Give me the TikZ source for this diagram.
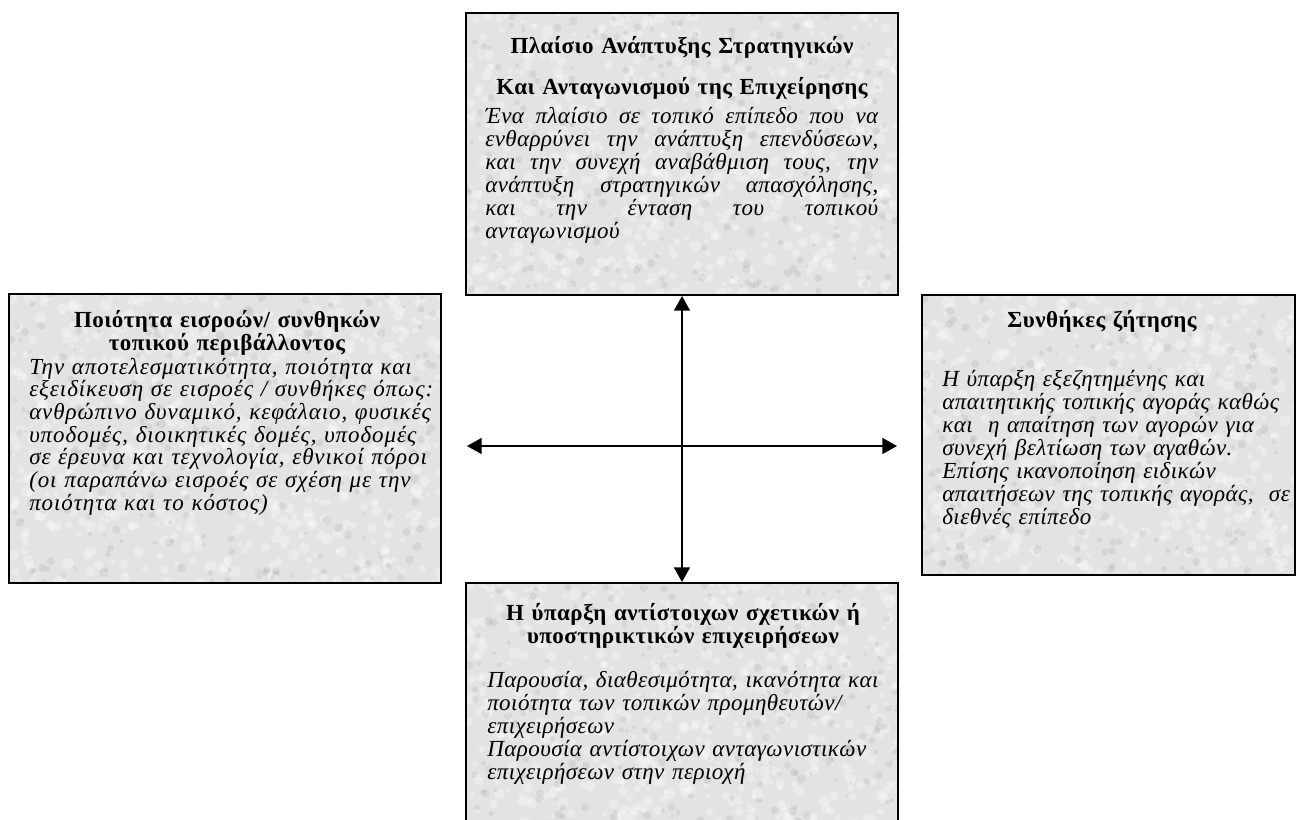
\documentclass[tikz,border=0pt]{standalone}
\usepackage{fontspec}
\setmainfont{Liberation Serif}[LetterSpace=2]
\newfontfamily\widerserif{Liberation Serif}[LetterSpace=4]
\usepackage{tikz}
\usetikzlibrary{arrows.meta}

\begin{document}
\pgfmathsetseed{7}
\begin{tikzpicture}[x=0.75pt,y=-0.75pt,
    box/.style={draw, line width=1.5pt, fill=black!11, inner sep=0pt,
      path picture={
        \foreach \s in {1,...,700}
          \fill[white, opacity=.3] (path picture bounding box.center)
            ++({(rnd-0.5)*440},{(rnd-0.5)*300}) circle[radius={2+4*rnd}];
        \foreach \s in {1,...,300}
          \fill[black!35, opacity=.22] (path picture bounding box.center)
            ++({(rnd-0.5)*440},{(rnd-0.5)*300}) circle[radius={1.5+3*rnd}];
      }},
    head/.style={font=\fontsize{17.25}{17.25}\selectfont\bfseries, align=center, inner sep=0pt, anchor=base},
    body/.style={font=\fontsize{17.25}{17.25}\selectfont\itshape, align=left, inner sep=0pt, anchor=base west},
    link/.style={line width=1.1pt, {Triangle[length=11pt,width=12pt]}-{Triangle[length=11pt,width=12pt]}}]
\useasboundingbox (0,0) rectangle (1297,819);
\fill[white] (0,0) rectangle (1297,819);

% the four boxes
\node[box, minimum width=324pt, minimum height=211.5pt] (strat) at (682,154) {};
\node[box, minimum width=324pt, minimum height=216.75pt] (inputs) at (225,438.5) {};
\node[box, minimum width=279.75pt, minimum height=210pt] (demand) at (1108.5,435) {};
\node[box, minimum width=324pt, minimum height=189pt] (supp) at (682,709) {};

% texts
\node[head, text width=315pt] (strathead) at (682,53)
  {Πλαίσιο Ανάπτυξης Στρατηγικών\\[13.5pt]
   Και Ανταγωνισμού της Επιχείρησης};
\node[body, align=justify, text width=294.75pt] (stratbody) at (485,123)
  {Ένα πλαίσιο σε τοπικό επίπεδο που να\linebreak
   ενθαρρύνει την ανάπτυξη επενδύσεων,\linebreak
   και την συνεχή αναβάθμιση τους, την\linebreak
   ανάπτυξη στρατηγικών απασχόλησης,\linebreak
   και την ένταση του τοπικού\linebreak
   ανταγωνισμού};

\node[head, text width=315pt] (inputshead) at (227,327)
  {Ποιότητα εισροών/ συνθηκών\\
   τοπικού περιβάλλοντος};
\node[body, font=\fontsize{17.25}{17}\widerserif\itshape, text width=315pt] (inputsbody) at (29,374)
  {Την αποτελεσματικότητα, ποιότητα και\\
   εξειδίκευση σε εισροές / συνθήκες όπως:\\
   ανθρώπινο δυναμικό, κεφάλαιο, φυσικές\\
   υποδομές, διοικητικές δομές, υποδομές\\
   σε έρευνα και τεχνολογία, εθνικοί πόροι\\
   (οι παραπάνω εισροές σε σχέση με την\\
   ποιότητα και το κόστος)};

\node[head, text width=270pt] (demandhead) at (1102,327) {Συνθήκες ζήτησης};
\node[body, text width=275pt] (demandbody) at (942,386)
  {Η ύπαρξη εξεζητημένης και\\
   απαιτητικής τοπικής αγοράς καθώς\\
   και~ η απαίτηση των αγορών για\\
   συνεχή βελτίωση των αγαθών.\\
   Επίσης ικανοποίηση ειδικών\\
   απαιτήσεων της τοπικής αγοράς,~ σε\\
   διεθνές επίπεδο};

\node[head, text width=315pt] (supphead) at (683,620)
  {Η ύπαρξη αντίστοιχων σχετικών ή\\
   υποστηρικτικών επιχειρήσεων};
\node[body, text width=310pt] (suppbody) at (487,687)
  {Παρουσία, διαθεσιμότητα, ικανότητα και\\
   ποιότητα των τοπικών προμηθευτών/\\
   επιχειρήσεων\\
   Παρουσία αντίστοιχων ανταγωνιστικών\\
   επιχειρήσεων στην περιοχή};

% arrows
\coordinate (westend) at (467,446);
\coordinate (eastend) at (897,446);
\draw[link] (strat.south) -- (supp.north);
\draw[link] (westend) -- (eastend);
\end{tikzpicture}
\end{document}
